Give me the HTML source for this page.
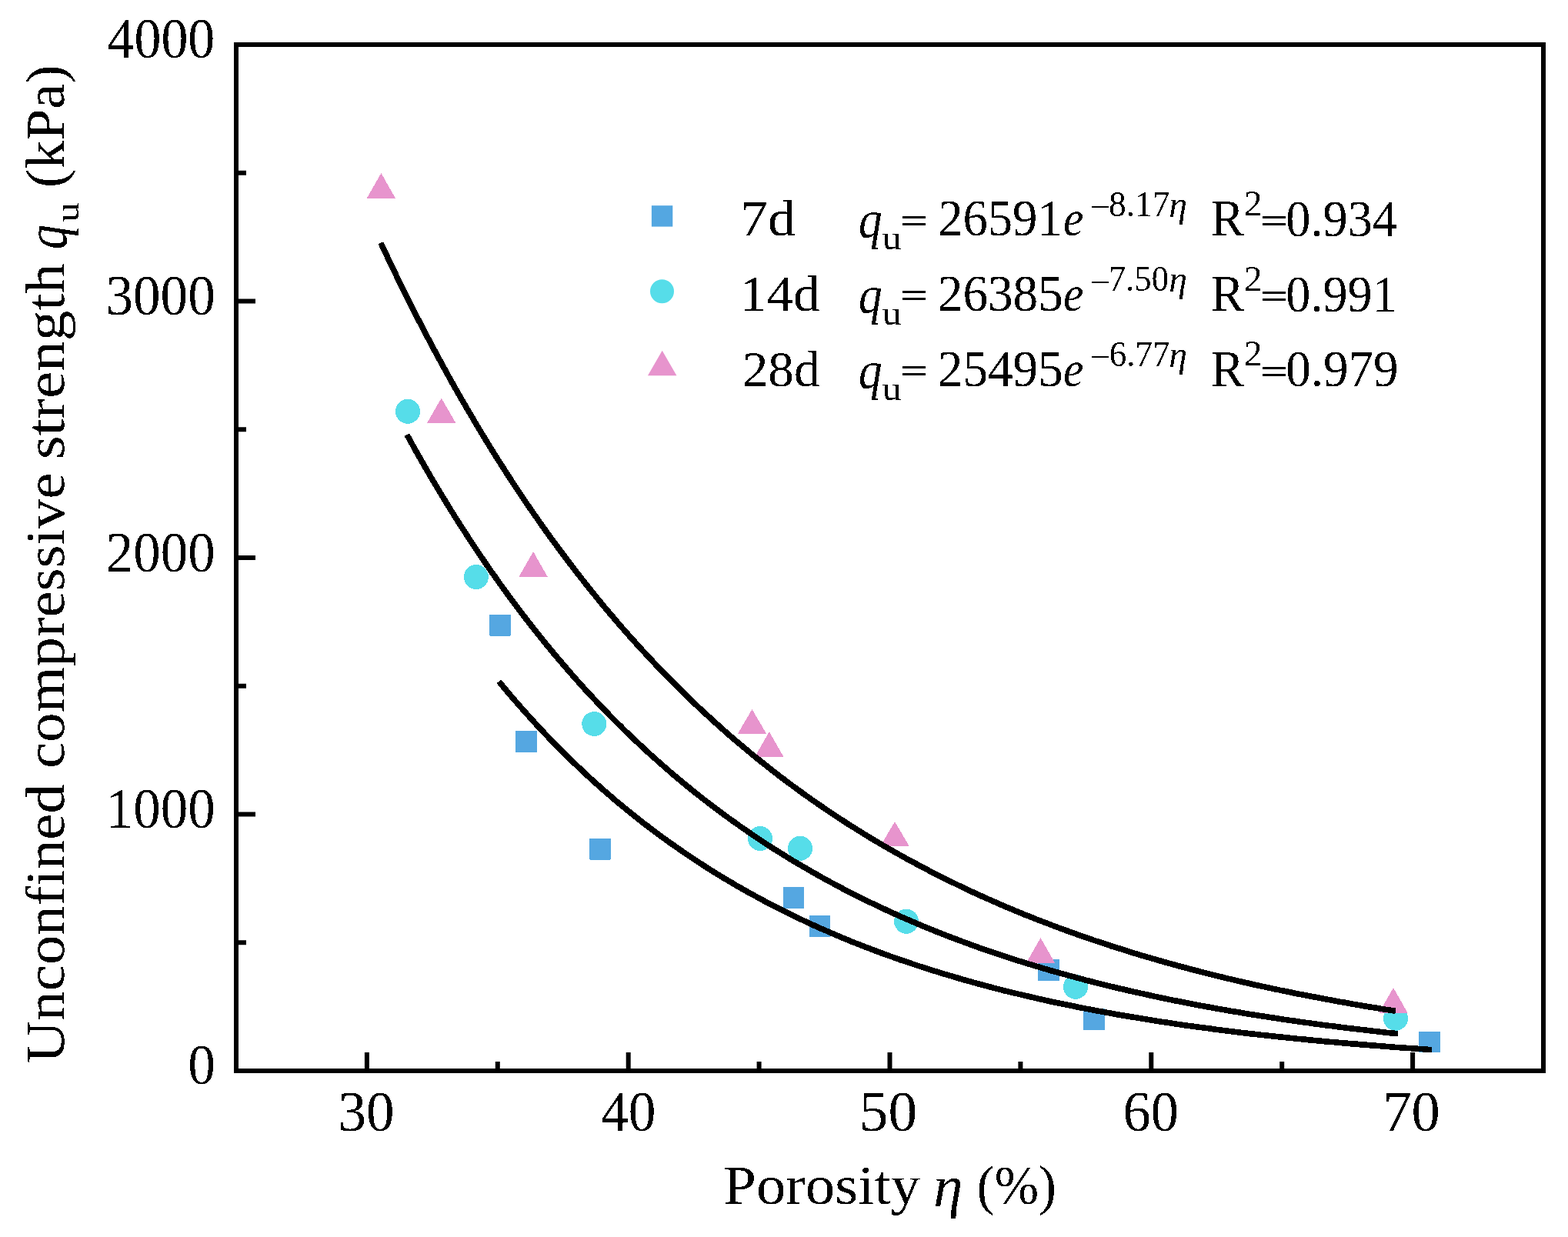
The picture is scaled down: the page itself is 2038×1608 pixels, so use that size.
<!DOCTYPE html>
<html><head><meta charset="utf-8"><title>Porosity vs strength</title>
<style>html,body{margin:0;padding:0;background:#fff;overflow:hidden;}svg{display:block;}</style></head>
<body><svg width="2038" height="1608" viewBox="0 0 2038 1608">
<defs><filter id="bin" x="0" y="0" width="2038" height="1608" filterUnits="userSpaceOnUse"><feComponentTransfer><feFuncA type="discrete" tableValues="0 1"/></feComponentTransfer></filter></defs>
<rect width="2038" height="1608" fill="#fff"/>
<rect x="307" y="58" width="1699" height="1334" fill="none" stroke="#000" stroke-width="6"/>
<path d="M476.90 1392V1368 M816.70 1392V1368 M1156.50 1392V1368 M1496.30 1392V1368 M1836.10 1392V1368 M646.80 1392V1380 M986.60 1392V1380 M1326.40 1392V1380 M1666.20 1392V1380 M307 1058.50H332 M307 725.00H332 M307 391.50H332 M307 1225.25H320 M307 891.75H320 M307 558.25H320 M307 224.75H320" stroke="#000" stroke-width="6" fill="none"/>
<g fill="#54A7E1" filter="url(#bin)"><rect x="636.20" y="799.00" width="27.6" height="27.6"/><rect x="670.20" y="950.20" width="27.6" height="27.6"/><rect x="766.20" y="1090.00" width="27.6" height="27.6"/><rect x="1017.70" y="1152.90" width="27.6" height="27.6"/><rect x="1051.60" y="1190.10" width="27.6" height="27.6"/><rect x="1349.20" y="1247.20" width="27.6" height="27.6"/><rect x="1408.20" y="1311.20" width="27.6" height="27.6"/><rect x="1844.20" y="1340.70" width="27.6" height="27.6"/></g>
<g fill="#56DDE9" filter="url(#bin)"><circle cx="530" cy="534.8" r="16"/><circle cx="618.9" cy="750" r="16"/><circle cx="772.3" cy="941" r="16"/><circle cx="988" cy="1090" r="16"/><circle cx="1040" cy="1102.8" r="16"/><circle cx="1178" cy="1197.6" r="16"/><circle cx="1398" cy="1282.8" r="16"/><circle cx="1814" cy="1323.8" r="16"/></g>
<g fill="#E794CD" filter="url(#bin)"><path d="M495.40 225.00L514.15 258.00L476.65 258.00Z"/><path d="M573.70 517.50L592.45 550.00L554.95 550.00Z"/><path d="M693.10 717.00L711.85 750.00L674.35 750.00Z"/><path d="M977.50 922.00L996.25 954.00L958.75 954.00Z"/><path d="M999.80 951.00L1018.55 984.00L981.05 984.00Z"/><path d="M1163.00 1068.00L1181.75 1100.00L1144.25 1100.00Z"/><path d="M1352.50 1219.00L1371.25 1252.00L1333.75 1252.00Z"/><path d="M1811.00 1284.00L1829.75 1317.00L1792.25 1317.00Z"/></g>
<g fill="none" stroke="#000" stroke-width="7.6" stroke-linejoin="round" filter="url(#bin)">
<path d="M494.91,315.74 L501.50,329.79 L508.10,343.66 L514.70,357.35 L521.29,370.85 L527.89,384.18 L534.48,397.34 L541.08,410.33 L547.67,423.14 L554.27,435.79 L560.86,448.27 L567.46,460.59 L574.06,472.75 L580.65,484.75 L587.25,496.59 L593.84,508.28 L600.44,519.82 L607.03,531.21 L613.63,542.44 L620.22,553.53 L626.82,564.48 L633.42,575.28 L640.01,585.95 L646.61,596.47 L653.20,606.85 L659.80,617.10 L666.39,627.22 L672.99,637.20 L679.58,647.06 L686.18,656.78 L692.77,666.38 L699.37,675.85 L705.97,685.20 L712.56,694.43 L719.16,703.53 L725.75,712.52 L732.35,721.39 L738.94,730.15 L745.54,738.79 L752.13,747.31 L758.73,755.73 L765.33,764.04 L771.92,772.24 L778.52,780.33 L785.11,788.31 L791.71,796.19 L798.30,803.97 L804.90,811.65 L811.49,819.22 L818.09,826.70 L824.69,834.08 L831.28,841.36 L837.88,848.55 L844.47,855.65 L851.07,862.65 L857.66,869.56 L864.26,876.38 L870.85,883.11 L877.45,889.75 L884.04,896.31 L890.64,902.78 L897.24,909.17 L903.83,915.47 L910.43,921.69 L917.02,927.83 L923.62,933.89 L930.21,939.87 L936.81,945.77 L943.40,951.60 L950.00,957.35 L956.60,963.02 L963.19,968.62 L969.79,974.15 L976.38,979.60 L982.98,984.99 L989.57,990.30 L996.17,995.55 L1002.76,1000.72 L1009.36,1005.83 L1015.96,1010.87 L1022.55,1015.85 L1029.15,1020.76 L1035.74,1025.60 L1042.34,1030.39 L1048.93,1035.11 L1055.53,1039.77 L1062.12,1044.36 L1068.72,1048.90 L1075.31,1053.38 L1081.91,1057.80 L1088.51,1062.16 L1095.10,1066.47 L1101.70,1070.72 L1108.29,1074.91 L1114.89,1079.05 L1121.48,1083.14 L1128.08,1087.17 L1134.67,1091.15 L1141.27,1095.08 L1147.87,1098.95 L1154.46,1102.78 L1161.06,1106.56 L1167.65,1110.28 L1174.25,1113.96 L1180.84,1117.59 L1187.44,1121.17 L1194.03,1124.71 L1200.63,1128.20 L1207.23,1131.64 L1213.82,1135.04 L1220.42,1138.39 L1227.01,1141.70 L1233.61,1144.97 L1240.20,1148.20 L1246.80,1151.38 L1253.39,1154.52 L1259.99,1157.62 L1266.59,1160.68 L1273.18,1163.70 L1279.78,1166.68 L1286.37,1169.62 L1292.97,1172.53 L1299.56,1175.39 L1306.16,1178.22 L1312.75,1181.01 L1319.35,1183.76 L1325.94,1186.48 L1332.54,1189.17 L1339.14,1191.81 L1345.73,1194.43 L1352.33,1197.01 L1358.92,1199.55 L1365.52,1202.06 L1372.11,1204.54 L1378.71,1206.99 L1385.30,1209.41 L1391.90,1211.79 L1398.50,1214.14 L1405.09,1216.46 L1411.69,1218.76 L1418.28,1221.02 L1424.88,1223.25 L1431.47,1225.45 L1438.07,1227.63 L1444.66,1229.77 L1451.26,1231.89 L1457.86,1233.98 L1464.45,1236.04 L1471.05,1238.08 L1477.64,1240.09 L1484.24,1242.07 L1490.83,1244.03 L1497.43,1245.96 L1504.02,1247.87 L1510.62,1249.75 L1517.21,1251.61 L1523.81,1253.44 L1530.41,1255.25 L1537.00,1257.03 L1543.60,1258.79 L1550.19,1260.53 L1556.79,1262.25 L1563.38,1263.94 L1569.98,1265.62 L1576.57,1267.27 L1583.17,1268.89 L1589.77,1270.50 L1596.36,1272.09 L1602.96,1273.65 L1609.55,1275.20 L1616.15,1276.72 L1622.74,1278.23 L1629.34,1279.71 L1635.93,1281.18 L1642.53,1282.62 L1649.13,1284.05 L1655.72,1285.46 L1662.32,1286.85 L1668.91,1288.23 L1675.51,1289.58 L1682.10,1290.92 L1688.70,1292.24 L1695.29,1293.54 L1701.89,1294.82 L1708.48,1296.09 L1715.08,1297.34 L1721.68,1298.58 L1728.27,1299.80 L1734.87,1301.00 L1741.46,1302.19 L1748.06,1303.36 L1754.65,1304.52 L1761.25,1305.66 L1767.84,1306.79 L1774.44,1307.90 L1781.04,1309.00 L1787.63,1310.08 L1794.23,1311.15 L1800.82,1312.21 L1807.42,1313.25 L1814.01,1314.28"/>
<path d="M528.89,565.10 L535.33,576.77 L541.77,588.28 L548.21,599.62 L554.65,610.81 L561.09,621.83 L567.53,632.70 L573.98,643.42 L580.42,653.99 L586.86,664.41 L593.30,674.68 L599.74,684.80 L606.18,694.79 L612.62,704.63 L619.06,714.33 L625.50,723.90 L631.94,733.33 L638.38,742.62 L644.83,751.79 L651.27,760.83 L657.71,769.74 L664.15,778.52 L670.59,787.18 L677.03,795.72 L683.47,804.13 L689.91,812.43 L696.35,820.61 L702.79,828.68 L709.23,836.63 L715.68,844.47 L722.12,852.20 L728.56,859.82 L735.00,867.33 L741.44,874.74 L747.88,882.04 L754.32,889.24 L760.76,896.33 L767.20,903.33 L773.64,910.23 L780.08,917.03 L786.53,923.73 L792.97,930.34 L799.41,936.86 L805.85,943.28 L812.29,949.62 L818.73,955.86 L825.17,962.02 L831.61,968.09 L838.05,974.07 L844.49,979.97 L850.93,985.79 L857.38,991.52 L863.82,997.17 L870.26,1002.75 L876.70,1008.24 L883.14,1013.66 L889.58,1019.00 L896.02,1024.27 L902.46,1029.46 L908.90,1034.57 L915.34,1039.62 L921.78,1044.59 L928.23,1049.50 L934.67,1054.33 L941.11,1059.10 L947.55,1063.80 L953.99,1068.43 L960.43,1073.00 L966.87,1077.50 L973.31,1081.94 L979.75,1086.32 L986.19,1090.63 L992.63,1094.89 L999.08,1099.08 L1005.52,1103.21 L1011.96,1107.29 L1018.40,1111.31 L1024.84,1115.27 L1031.28,1119.18 L1037.72,1123.03 L1044.16,1126.83 L1050.60,1130.57 L1057.04,1134.26 L1063.48,1137.90 L1069.93,1141.48 L1076.37,1145.02 L1082.81,1148.51 L1089.25,1151.94 L1095.69,1155.33 L1102.13,1158.67 L1108.57,1161.97 L1115.01,1165.21 L1121.45,1168.41 L1127.89,1171.57 L1134.33,1174.68 L1140.78,1177.75 L1147.22,1180.77 L1153.66,1183.76 L1160.10,1186.70 L1166.54,1189.59 L1172.98,1192.45 L1179.42,1195.27 L1185.86,1198.04 L1192.30,1200.78 L1198.74,1203.48 L1205.18,1206.14 L1211.63,1208.77 L1218.07,1211.35 L1224.51,1213.90 L1230.95,1216.42 L1237.39,1218.89 L1243.83,1221.34 L1250.27,1223.75 L1256.71,1226.12 L1263.15,1228.46 L1269.59,1230.77 L1276.03,1233.05 L1282.48,1235.29 L1288.92,1237.50 L1295.36,1239.68 L1301.80,1241.83 L1308.24,1243.95 L1314.68,1246.04 L1321.12,1248.10 L1327.56,1250.14 L1334.00,1252.14 L1340.44,1254.11 L1346.88,1256.06 L1353.33,1257.98 L1359.77,1259.87 L1366.21,1261.73 L1372.65,1263.57 L1379.09,1265.39 L1385.53,1267.17 L1391.97,1268.94 L1398.41,1270.67 L1404.85,1272.38 L1411.29,1274.07 L1417.73,1275.74 L1424.18,1277.38 L1430.62,1279.00 L1437.06,1280.59 L1443.50,1282.16 L1449.94,1283.72 L1456.38,1285.24 L1462.82,1286.75 L1469.26,1288.24 L1475.70,1289.70 L1482.14,1291.15 L1488.58,1292.57 L1495.03,1293.97 L1501.47,1295.36 L1507.91,1296.72 L1514.35,1298.07 L1520.79,1299.39 L1527.23,1300.70 L1533.67,1301.99 L1540.11,1303.26 L1546.55,1304.51 L1552.99,1305.75 L1559.43,1306.96 L1565.88,1308.16 L1572.32,1309.35 L1578.76,1310.51 L1585.20,1311.66 L1591.64,1312.80 L1598.08,1313.92 L1604.52,1315.02 L1610.96,1316.10 L1617.40,1317.18 L1623.84,1318.23 L1630.28,1319.27 L1636.73,1320.30 L1643.17,1321.31 L1649.61,1322.31 L1656.05,1323.29 L1662.49,1324.26 L1668.93,1325.22 L1675.37,1326.16 L1681.81,1327.09 L1688.25,1328.01 L1694.69,1328.91 L1701.13,1329.80 L1707.58,1330.68 L1714.02,1331.55 L1720.46,1332.40 L1726.90,1333.24 L1733.34,1334.07 L1739.78,1334.89 L1746.22,1335.69 L1752.66,1336.49 L1759.10,1337.27 L1765.54,1338.04 L1771.98,1338.81 L1778.43,1339.56 L1784.87,1340.30 L1791.31,1341.03 L1797.75,1341.75 L1804.19,1342.46 L1810.63,1343.15 L1817.07,1343.84"/>
<path d="M648.50,885.95 L654.56,893.28 L660.63,900.50 L666.69,907.61 L672.75,914.62 L678.82,921.53 L684.88,928.34 L690.95,935.05 L697.01,941.66 L703.07,948.18 L709.14,954.60 L715.20,960.94 L721.26,967.17 L727.33,973.32 L733.39,979.38 L739.45,985.36 L745.52,991.24 L751.58,997.04 L757.65,1002.76 L763.71,1008.39 L769.77,1013.94 L775.84,1019.42 L781.90,1024.81 L787.96,1030.12 L794.03,1035.36 L800.09,1040.52 L806.16,1045.61 L812.22,1050.62 L818.28,1055.56 L824.35,1060.43 L830.41,1065.23 L836.47,1069.96 L842.54,1074.62 L848.60,1079.22 L854.67,1083.74 L860.73,1088.21 L866.79,1092.60 L872.86,1096.94 L878.92,1101.21 L884.98,1105.41 L891.05,1109.56 L897.11,1113.65 L903.18,1117.68 L909.24,1121.65 L915.30,1125.56 L921.37,1129.42 L927.43,1133.22 L933.49,1136.97 L939.56,1140.66 L945.62,1144.29 L951.69,1147.88 L957.75,1151.41 L963.81,1154.89 L969.88,1158.33 L975.94,1161.71 L982.00,1165.04 L988.07,1168.33 L994.13,1171.56 L1000.20,1174.75 L1006.26,1177.90 L1012.32,1181.00 L1018.39,1184.05 L1024.45,1187.06 L1030.51,1190.03 L1036.58,1192.95 L1042.64,1195.83 L1048.71,1198.67 L1054.77,1201.47 L1060.83,1204.23 L1066.90,1206.94 L1072.96,1209.62 L1079.02,1212.26 L1085.09,1214.86 L1091.15,1217.43 L1097.22,1219.95 L1103.28,1222.44 L1109.34,1224.90 L1115.41,1227.32 L1121.47,1229.70 L1127.53,1232.05 L1133.60,1234.37 L1139.66,1236.65 L1145.72,1238.90 L1151.79,1241.11 L1157.85,1243.30 L1163.92,1245.45 L1169.98,1247.57 L1176.04,1249.66 L1182.11,1251.72 L1188.17,1253.75 L1194.23,1255.75 L1200.30,1257.72 L1206.36,1259.67 L1212.43,1261.58 L1218.49,1263.47 L1224.55,1265.33 L1230.62,1267.16 L1236.68,1268.97 L1242.74,1270.75 L1248.81,1272.51 L1254.87,1274.23 L1260.94,1275.94 L1267.00,1277.62 L1273.06,1279.27 L1279.13,1280.91 L1285.19,1282.51 L1291.25,1284.10 L1297.32,1285.66 L1303.38,1287.20 L1309.45,1288.72 L1315.51,1290.21 L1321.57,1291.68 L1327.64,1293.14 L1333.70,1294.57 L1339.76,1295.98 L1345.83,1297.37 L1351.89,1298.74 L1357.96,1300.09 L1364.02,1301.42 L1370.08,1302.73 L1376.15,1304.02 L1382.21,1305.29 L1388.27,1306.55 L1394.34,1307.79 L1400.40,1309.00 L1406.47,1310.21 L1412.53,1311.39 L1418.59,1312.56 L1424.66,1313.71 L1430.72,1314.84 L1436.78,1315.96 L1442.85,1317.06 L1448.91,1318.14 L1454.98,1319.21 L1461.04,1320.26 L1467.10,1321.30 L1473.17,1322.33 L1479.23,1323.33 L1485.29,1324.33 L1491.36,1325.31 L1497.42,1326.27 L1503.49,1327.22 L1509.55,1328.16 L1515.61,1329.09 L1521.68,1330.00 L1527.74,1330.89 L1533.80,1331.78 L1539.87,1332.65 L1545.93,1333.51 L1551.99,1334.35 L1558.06,1335.19 L1564.12,1336.01 L1570.19,1336.82 L1576.25,1337.62 L1582.31,1338.41 L1588.38,1339.18 L1594.44,1339.95 L1600.50,1340.70 L1606.57,1341.44 L1612.63,1342.18 L1618.70,1342.90 L1624.76,1343.61 L1630.82,1344.31 L1636.89,1345.00 L1642.95,1345.68 L1649.01,1346.35 L1655.08,1347.01 L1661.14,1347.66 L1667.21,1348.30 L1673.27,1348.93 L1679.33,1349.56 L1685.40,1350.17 L1691.46,1350.78 L1697.52,1351.37 L1703.59,1351.96 L1709.65,1352.54 L1715.72,1353.11 L1721.78,1353.68 L1727.84,1354.23 L1733.91,1354.78 L1739.97,1355.32 L1746.03,1355.85 L1752.10,1356.37 L1758.16,1356.89 L1764.23,1357.39 L1770.29,1357.89 L1776.35,1358.39 L1782.42,1358.87 L1788.48,1359.35 L1794.54,1359.83 L1800.61,1360.29 L1806.67,1360.75 L1812.74,1361.20 L1818.80,1361.65 L1824.86,1362.09 L1830.93,1362.52 L1836.99,1362.95 L1843.05,1363.37 L1849.12,1363.78 L1855.18,1364.19 L1861.25,1364.59"/>
</g>
<g fill="#54A7E1"><rect x="846.90" y="267.20" width="27.4" height="27.4"/></g>
<g fill="#56DDE9"><circle cx="860.5" cy="378.7" r="15.5"/></g>
<g fill="#E794CD"><path d="M860.70 455.80L879.45 488.20L841.95 488.20Z"/></g>
<g font-family='"Liberation Serif", "DejaVu Serif", serif' fill="#000" style="font-kerning:none" filter="url(#bin)"><text transform="translate(139.43,74.97) scale(0.9650,1.0302)" font-size="72.5" >4000</text>
<text transform="translate(137.50,408.97) scale(0.9808,1.0302)" font-size="72.5" >3000</text>
<text transform="translate(137.78,742.97) scale(0.9788,1.0302)" font-size="72.5" >2000</text>
<text transform="translate(137.66,1075.97) scale(0.9796,1.0302)" font-size="72.5" >1000</text>
<text transform="translate(244.19,1408.97) scale(0.9828,1.0302)" font-size="72.5" >0</text>
<text transform="translate(439.40,1469.97) scale(1.0095,1.0302)" font-size="72.5" >30</text>
<text transform="translate(781.21,1469.97) scale(0.9836,1.0302)" font-size="72.5" >40</text>
<text transform="translate(1116.82,1469.97) scale(1.0393,1.0302)" font-size="72.5" >50</text>
<text transform="translate(1459.49,1469.97) scale(0.9981,1.0302)" font-size="72.5" >60</text>
<text transform="translate(1797.39,1469.97) scale(1.0268,1.0302)" font-size="72.5" >70</text>
<text transform="translate(940.19,1564.80) scale(1.0592,1.0000)" font-size="72.5" >Porosity</text>
<text transform="translate(1213.26,1567.74) scale(1.0601,1.0578)" font-size="72.5" font-style="italic" >η</text>
<text transform="translate(1269.77,1564.80) scale(0.9501,1.0000)" font-size="72.5" >(%)</text>
<g transform="translate(83.3,1380.8) rotate(-90)"><text transform="translate(-1.62,0.00) scale(1.0620,1.0000)" font-size="72.5" >Unconfined</text><text transform="translate(381.97,0.00) scale(1.0607,1.0000)" font-size="72.5" >compressive</text><text transform="translate(783.75,0.00) scale(1.0921,1.0000)" font-size="72.5" >strength</text><text transform="translate(1056.67,2.64) scale(0.8866,1.0404)" font-size="72.5" font-style="italic" >q</text><text transform="translate(1092.13,19.26) scale(1.1107,0.9739)" font-size="46" >u</text><text transform="translate(1136.76,0.00) scale(1.0182,1.0000)" font-size="72.5" >(kPa)</text></g>
<text transform="translate(961.73,306.20) scale(1.0880,1.0000)" font-size="66.5" >7d</text>
<text transform="translate(1115.98,308.93) scale(0.9158,1.0573)" font-size="66.5" font-style="italic" >q</text>
<text transform="translate(1146.85,324.16) scale(1.0783,0.9739)" font-size="46" >u</text>
<text transform="translate(1170.37,302.52) scale(0.9436,0.7278)" font-size="66.5" stroke="#000" stroke-width="1.1">=</text>
<text transform="translate(1219.16,306.43) scale(0.9722,1.0251)" font-size="66.5" >26591</text>
<text transform="translate(1381.97,306.20) scale(0.8931,1.0000)" font-size="66.5" font-style="italic" >e</text>
<text transform="translate(1416.31,283.70) scale(1.0650,1.0000)" font-size="45" >−</text>
<text transform="translate(1440.97,280.53) scale(1.0087,1.0437)" font-size="45" >8.17</text>
<text transform="translate(1519.31,281.61) scale(1.0556,1.0712)" font-size="45" font-style="italic" >η</text>
<text transform="translate(1574.04,306.20) scale(0.9707,1.0151)" font-size="66.5" >R</text>
<text transform="translate(1616.93,279.70) scale(1.1225,1.0968)" font-size="42" >2</text>
<text transform="translate(1638.51,302.17) scale(0.9339,0.7098)" font-size="66.5" stroke="#000" stroke-width="1.1">=</text>
<text transform="translate(1671.25,306.73) scale(0.9675,1.0273)" font-size="66.5" >0.934</text>
<text transform="translate(961.60,404.00) scale(1.0430,1.0000)" font-size="66.5" >14d</text>
<text transform="translate(1115.98,406.73) scale(0.9158,1.0573)" font-size="66.5" font-style="italic" >q</text>
<text transform="translate(1146.85,421.96) scale(1.0783,0.9739)" font-size="46" >u</text>
<text transform="translate(1170.37,400.32) scale(0.9436,0.7278)" font-size="66.5" stroke="#000" stroke-width="1.1">=</text>
<text transform="translate(1218.84,404.24) scale(0.9799,1.0206)" font-size="66.5" >26385</text>
<text transform="translate(1381.97,404.00) scale(0.8931,1.0000)" font-size="66.5" font-style="italic" >e</text>
<text transform="translate(1416.31,381.50) scale(1.0650,1.0000)" font-size="45" >−</text>
<text transform="translate(1440.64,378.33) scale(0.9964,1.0437)" font-size="45" >7.50</text>
<text transform="translate(1519.31,379.41) scale(1.0556,1.0712)" font-size="45" font-style="italic" >η</text>
<text transform="translate(1574.04,404.00) scale(0.9707,1.0151)" font-size="66.5" >R</text>
<text transform="translate(1616.93,377.50) scale(1.1225,1.0968)" font-size="42" >2</text>
<text transform="translate(1638.51,399.97) scale(0.9339,0.7098)" font-size="66.5" stroke="#000" stroke-width="1.1">=</text>
<text transform="translate(1671.25,404.53) scale(0.9665,1.0273)" font-size="66.5" >0.991</text>
<text transform="translate(964.74,501.80) scale(1.0113,1.0000)" font-size="66.5" >28d</text>
<text transform="translate(1115.98,504.53) scale(0.9158,1.0573)" font-size="66.5" font-style="italic" >q</text>
<text transform="translate(1146.85,519.76) scale(1.0783,0.9739)" font-size="46" >u</text>
<text transform="translate(1170.37,498.12) scale(0.9436,0.7278)" font-size="66.5" stroke="#000" stroke-width="1.1">=</text>
<text transform="translate(1218.84,502.03) scale(0.9799,1.0251)" font-size="66.5" >25495</text>
<text transform="translate(1381.97,501.80) scale(0.8931,1.0000)" font-size="66.5" font-style="italic" >e</text>
<text transform="translate(1416.31,479.30) scale(1.0650,1.0000)" font-size="45" >−</text>
<text transform="translate(1441.67,476.13) scale(0.9997,1.0482)" font-size="45" >6.77</text>
<text transform="translate(1519.31,477.21) scale(1.0556,1.0712)" font-size="45" font-style="italic" >η</text>
<text transform="translate(1574.04,501.80) scale(0.9707,1.0151)" font-size="66.5" >R</text>
<text transform="translate(1616.93,475.30) scale(1.1225,1.0968)" font-size="42" >2</text>
<text transform="translate(1638.51,497.77) scale(0.9339,0.7098)" font-size="66.5" stroke="#000" stroke-width="1.1">=</text>
<text transform="translate(1671.22,502.33) scale(0.9788,1.0273)" font-size="66.5" >0.979</text></g>
</svg></body></html>
